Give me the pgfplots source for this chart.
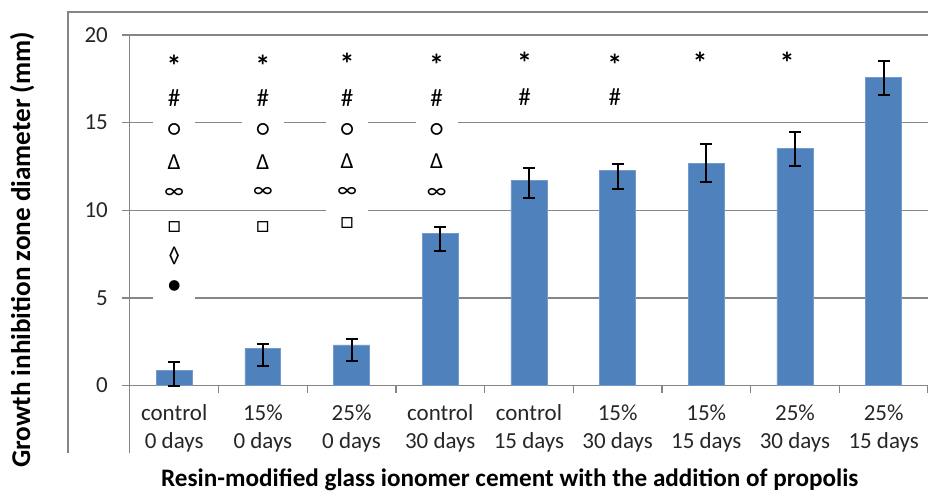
\documentclass[border=0pt]{standalone}
\usepackage{pgfplots}
\pgfplotsset{compat=1.18}
\usepackage{fontspec}
\setmainfont{Carlito}
\definecolor{barblue}{RGB}{79,129,189}
\definecolor{gridgray}{RGB}{134,134,134}
\newcommand\sym[3]{\node[fill=white,inner sep=0pt,minimum width=21pt,minimum height=16pt,font=\fontsize{11.5}{12}\selectfont] at (axis cs:#1,#2) {#3};}
\newcommand\myast{{\bfseries\fontsize{15}{15}\selectfont *}}
\newcommand\hsh{{\fontsize{12.5}{12.5}\selectfont \#}}
\begin{document}
\begin{tikzpicture}
\path[use as bounding box] (-65pt,-54pt) rectangle (399.5pt,193pt);
\begin{axis}[
 at={(0pt,0pt)}, anchor=south west,
 width=399.5pt, height=175.5pt, scale only axis,
 xmin=-0.5, xmax=8.5, ymin=0, ymax=20,
 ybar, bar width=18pt,
 axis x line*=bottom, axis y line*=left,
 axis line style={draw=gridgray,-},
 every outer x axis line/.append style={-},
 every outer y axis line/.append style={-},
 ytick={0,5,10,15,20},
 ymajorgrids, grid style={gridgray, line width=0.6pt},
 xtick={0,...,8},
 xticklabels={{control\\0 days},{15\%\\0 days},{25\%\\0 days},{control\\30 days},{control\\15 days},{15\%\\30 days},{15\%\\15 days},{25\%\\30 days},{25\%\\15 days}},
 minor xtick={0.5,1.5,...,8.5},
 tick align=outside,
 major tick length=4pt, minor tick length=3.5pt,
 major x tick style={draw=none},
 minor x tick style={draw=gridgray, line width=0.6pt},
 ytick style={draw=gridgray, line width=0.6pt},
 /pgf/number format/assume math mode=true,
 ticklabel style={font=\fontsize{11.5}{14}\selectfont, text=black!85},
 xticklabel style={align=center, yshift=-2pt},
 yticklabel style={xshift=-3.5pt},
 xlabel={Resin-modified glass ionomer cement with the addition of propolis},
 xlabel style={font=\bfseries\fontsize{12.6}{14}\selectfont, at={(axis description cs:0.476,-0.268)}, anchor=center},
 ylabel={Growth inhibition zone diameter (mm)},
 ylabel style={font=\bfseries\fontsize{13.6}{14}\selectfont, at={(axis description cs:-0.135,0.387)}, anchor=center, rotate=0},
 clip=false,
]
\addplot[fill=barblue, draw=barblue!80!white,
  error bars/.cd, y dir=both, y explicit,
  error bar style={line width=1pt, black},
  error mark options={rotate=90, mark size=3pt, line width=1pt, black}]
coordinates {
 (0,0.87) += (0,0.46) -= (0,0.87)
 (1,2.13) += (0,0.26) -= (0,1.01)
 (2,2.32) += (0,0.36) -= (0,0.91)
 (3,8.70) += (0,0.34) -= (0,1.01)
 (4,11.70) += (0,0.74) -= (0,1.00)
 (5,12.27) += (0,0.36) -= (0,1.03)
 (6,12.67) += (0,1.10) -= (0,1.03)
 (7,13.52) += (0,0.94) -= (0,0.98)
 (8,17.59) += (0,0.93) -= (0,0.99)
};
% column 0
\sym{0}{18.25}{\myast}\sym{0}{16.39}{\hsh}\sym{0}{14.59}{○}\sym{0}{12.74}{Δ}
\sym{0}{10.98}{∞}\sym{0}{9.02}{□}\sym{0}{7.41}{◊}\sym{0}{5.66}{●}
% column 1
\sym{1}{18.25}{\myast}\sym{1}{16.41}{\hsh}\sym{1}{14.59}{○}\sym{1}{12.76}{Δ}
\sym{1}{10.99}{∞}\sym{1}{9.05}{□}
% column 2
\sym{1.95}{18.35}{\myast}\sym{1.95}{16.39}{\hsh}\sym{1.95}{14.59}{○}\sym{1.95}{12.82}{Δ}
\sym{1.95}{11.04}{∞}\sym{1.95}{9.27}{□}
% column 3
\sym{2.96}{18.29}{\myast}\sym{2.96}{16.39}{\hsh}\sym{2.96}{14.59}{○}\sym{2.96}{12.78}{Δ}
\sym{2.96}{10.98}{∞}
% column 4
\sym{3.95}{18.39}{\myast}\sym{3.95}{16.48}{\hsh}
% column 5
\sym{4.97}{18.29}{\myast}\sym{4.97}{16.45}{\hsh}
% column 6
\sym{5.93}{18.39}{\myast}
% column 7
\sym{6.91}{18.39}{\myast}
\end{axis}
\draw[gridgray, line width=0.8pt] (-31pt,-33.5pt) -- (-31pt,187pt) -- (399.5pt,187pt);
\draw[gridgray, line width=0.6pt] (0pt,0pt) -- (0pt,-33.5pt);
\end{tikzpicture}
\end{document}
